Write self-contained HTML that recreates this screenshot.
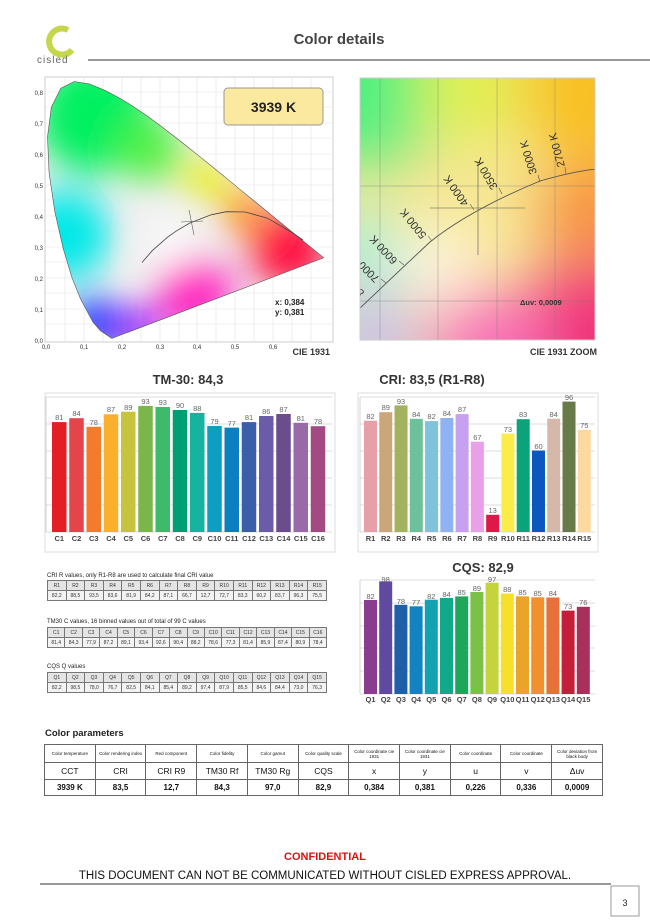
<!DOCTYPE html>
<html><head><meta charset="utf-8"><style>
body{margin:0;background:#fff;font-family:"Liberation Sans",sans-serif;}
#p{position:relative;width:650px;height:920px;overflow:hidden;background:#fff;}
svg{position:absolute;left:0;top:0;}
table{position:absolute;border-collapse:collapse;table-layout:fixed;font-family:"Liberation Sans",sans-serif;}
.t td{border:1px solid #777;font-size:5px;text-align:center;height:9px;padding:0;color:#333;}
.t tr:first-child td{background:#e4e4e4;}
.t tr:last-child td{background:#f3f3f3;}
.cap{position:absolute;font-size:6px;color:#222;left:47px;}
.cp td{border:1px solid #666;text-align:center;padding:0;color:#111;}
</style></head><body><div id="p">
<svg width="650" height="920" viewBox="0 0 650 920" font-family="Liberation Sans, sans-serif">
<defs>
<clipPath id="cie"><polygon points="111.8,338.4 100.4,330.8 92.9,322.1 80.5,298.9 72,277.8 63.2,248.5 54.9,212.1 49.1,173.1 47.5,137 51.3,107.4 60.7,88.3 74.1,81.5 89.2,83.9 104.5,90.2 118.9,97.7 132.8,106.2 146.5,115.5 160,125.4 173.5,135.7 187,146.4 200.5,157.2 213.9,168 227,178.7 239.7,189.2 251.9,199.1 263.4,208.5 273.9,217.1 283,224.5 291,231.1 297.7,236.5 323.7,257.8"/></clipPath>
<clipPath id="zc"><rect x="360" y="78" width="235" height="262"/></clipPath>
<filter id="b1" x="-50%" y="-50%" width="200%" height="200%"><feGaussianBlur stdDeviation="18"/></filter>
<filter id="b2" x="-50%" y="-50%" width="200%" height="200%"><feGaussianBlur stdDeviation="30"/></filter>
</defs>
<!-- header -->
<path d="M68,30 A13,13 0 1 0 72,50" fill="none" stroke="#c5d64a" stroke-width="6"/>
<text x="37" y="63" font-size="10" fill="#666" letter-spacing="1">cisled</text>
<text x="339" y="44" font-size="15" font-weight="bold" fill="#444" text-anchor="middle">Color details</text>
<line x1="88" y1="60" x2="650" y2="60" stroke="#777" stroke-width="1.5"/>
<!-- CIE 1931 -->
<rect x="45" y="77" width="288" height="265" fill="#fff" stroke="#ccc"/>
<g stroke="#e2e2e2" stroke-width="0.6">
<line x1="65" y1="77" x2="65" y2="342"/><line x1="84" y1="77" x2="84" y2="342"/><line x1="103" y1="77" x2="103" y2="342"/><line x1="122" y1="77" x2="122" y2="342"/><line x1="141" y1="77" x2="141" y2="342"/><line x1="160" y1="77" x2="160" y2="342"/><line x1="179" y1="77" x2="179" y2="342"/><line x1="197" y1="77" x2="197" y2="342"/><line x1="216" y1="77" x2="216" y2="342"/><line x1="235" y1="77" x2="235" y2="342"/><line x1="254" y1="77" x2="254" y2="342"/><line x1="273" y1="77" x2="273" y2="342"/><line x1="292" y1="77" x2="292" y2="342"/><line x1="311" y1="77" x2="311" y2="342"/>
<line x1="45" y1="324" x2="333" y2="324"/><line x1="45" y1="309" x2="333" y2="309"/><line x1="45" y1="293" x2="333" y2="293"/><line x1="45" y1="278" x2="333" y2="278"/><line x1="45" y1="262" x2="333" y2="262"/><line x1="45" y1="247" x2="333" y2="247"/><line x1="45" y1="231" x2="333" y2="231"/><line x1="45" y1="216" x2="333" y2="216"/><line x1="45" y1="200" x2="333" y2="200"/><line x1="45" y1="185" x2="333" y2="185"/><line x1="45" y1="169" x2="333" y2="169"/><line x1="45" y1="154" x2="333" y2="154"/><line x1="45" y1="138" x2="333" y2="138"/><line x1="45" y1="123" x2="333" y2="123"/><line x1="45" y1="107" x2="333" y2="107"/><line x1="45" y1="92" x2="333" y2="92"/>
</g>
<g clip-path="url(#cie)">
<rect x="40" y="70" width="300" height="280" fill="#f0f0f0"/>
<g filter="url(#b1)">
<circle cx="95" cy="115" r="60" fill="#00f060"/>
<circle cx="150" cy="150" r="32" fill="#50f040"/>
<circle cx="65" cy="235" r="45" fill="#00e8e8"/>
<circle cx="95" cy="325" r="28" fill="#1030ff"/>
<circle cx="140" cy="330" r="22" fill="#9010ff"/>
<circle cx="195" cy="295" r="38" fill="#ff20c0"/>
<circle cx="290" cy="250" r="40" fill="#ff1040"/>
<circle cx="245" cy="212" r="22" fill="#ff8800"/>
<circle cx="205" cy="180" r="22" fill="#e8f000"/>
<circle cx="172" cy="245" r="22" fill="#ffffff"/>
</g>
</g>
<polygon points="111.8,338.4 100.4,330.8 92.9,322.1 80.5,298.9 72,277.8 63.2,248.5 54.9,212.1 49.1,173.1 47.5,137 51.3,107.4 60.7,88.3 74.1,81.5 89.2,83.9 104.5,90.2 118.9,97.7 132.8,106.2 146.5,115.5 160,125.4 173.5,135.7 187,146.4 200.5,157.2 213.9,168 227,178.7 239.7,189.2 251.9,199.1 263.4,208.5 273.9,217.1 283,224.5 291,231.1 297.7,236.5 323.7,257.8" fill="none" stroke="#555" stroke-width="0.6"/>
<polyline points="142,262.5 152.2,250.7 167.7,237.1 176.4,230.9 189.6,223.1 211.2,214.8 226.3,211.7 245.2,212 267.5,218.2 292.8,233 303,240" fill="none" stroke="#444" stroke-width="0.8"/>
<g stroke="#555" stroke-width="0.6"><line x1="181" y1="222" x2="203" y2="221"/><line x1="189" y1="210" x2="194" y2="235"/></g>
<g font-size="6" fill="#333">
<text x="43" y="343" text-anchor="end">0,0</text><text x="43" y="312" text-anchor="end">0,1</text><text x="43" y="281" text-anchor="end">0,2</text><text x="43" y="250" text-anchor="end">0,3</text><text x="43" y="219" text-anchor="end">0,4</text><text x="43" y="188" text-anchor="end">0,5</text><text x="43" y="157" text-anchor="end">0,6</text><text x="43" y="126" text-anchor="end">0,7</text><text x="43" y="95" text-anchor="end">0,8</text>
<text x="46" y="349" text-anchor="middle">0,0</text><text x="84" y="349" text-anchor="middle">0,1</text><text x="122" y="349" text-anchor="middle">0,2</text><text x="160" y="349" text-anchor="middle">0,3</text><text x="197" y="349" text-anchor="middle">0,4</text><text x="235" y="349" text-anchor="middle">0,5</text><text x="273" y="349" text-anchor="middle">0,6</text>
</g>
<rect x="224" y="88" width="99" height="37" rx="4" fill="#fce9a0" stroke="#999"/>
<text x="273.5" y="112" font-size="14" font-weight="bold" fill="#222" text-anchor="middle">3939 K</text>
<text x="275" y="305" font-size="8" font-weight="bold" fill="#222">x: 0,384</text>
<text x="275" y="315" font-size="8" font-weight="bold" fill="#222">y: 0,381</text>
<text x="330" y="355" font-size="9" font-weight="bold" fill="#333" text-anchor="end">CIE 1931</text>
<!-- zoom -->
<g clip-path="url(#zc)">
<rect x="360" y="78" width="235" height="262" fill="#f6e690"/>
<g filter="url(#b2)">
<circle cx="365" cy="85" r="80" fill="#50f080"/>
<circle cx="470" cy="85" r="55" fill="#e0f050"/>
<circle cx="595" cy="90" r="75" fill="#f8c020"/>
<circle cx="595" cy="215" r="55" fill="#f89040"/>
<circle cx="595" cy="340" r="80" fill="#f03078"/>
<circle cx="490" cy="345" r="60" fill="#f870b8"/>
<circle cx="370" cy="340" r="50" fill="#c8c0f0"/>
<circle cx="362" cy="250" r="40" fill="#a0f0e0"/>
<circle cx="440" cy="265" r="40" fill="#fff8e8"/>
</g>
<g stroke="#777" stroke-width="0.5" opacity="0.7">
<line x1="380" y1="78" x2="380" y2="340"/><line x1="438" y1="78" x2="438" y2="340"/><line x1="497" y1="78" x2="497" y2="340"/><line x1="555" y1="78" x2="555" y2="340"/>
<line x1="360" y1="186" x2="595" y2="186"/><line x1="360" y1="301" x2="595" y2="301"/>
</g>
<path d="M358,310 Q400,270 430,242 Q470,210 540,181 Q575,171 597,169" fill="none" stroke="#555" stroke-width="0.9"/>
<g stroke="#555" stroke-width="0.6">
<line x1="478" y1="162" x2="478" y2="255"/><line x1="430" y1="208" x2="525" y2="208"/>
<line x1="566" y1="174" x2="565" y2="167"/><line x1="540" y1="182" x2="538" y2="175"/><line x1="502" y1="194" x2="499" y2="188"/><line x1="474" y1="210" x2="470" y2="204"/><line x1="432" y1="241" x2="428" y2="236"/><line x1="404" y1="265" x2="399" y2="261"/><line x1="386" y1="283" x2="381" y2="279"/>
</g>
<g font-size="11" fill="#333">
<text transform="translate(565,166) rotate(-105)">2700 K</text>
<text transform="translate(537,173) rotate(-107)">3000 K</text>
<text transform="translate(498,187) rotate(-120)">3500 K</text>
<text transform="translate(469,203) rotate(-125)">4000 K</text>
<text transform="translate(427,235) rotate(-129)">5000 K</text>
<text transform="translate(398,260) rotate(-133)">6000 K</text>
<text transform="translate(380,278) rotate(-135)">7000 K</text>
<text transform="translate(365,292) rotate(-137)">8000 K</text>
</g>
<text x="520" y="305" font-size="7.5" font-weight="bold" fill="#333">Δuv: 0,0009</text>
</g>
<rect x="360" y="78" width="235" height="262" fill="none" stroke="#ccc"/>
<text x="597" y="355" font-size="9" font-weight="bold" fill="#333" text-anchor="end">CIE 1931 ZOOM</text>
<!-- TM30 -->
<text x="188" y="384" font-size="13" font-weight="bold" fill="#333" text-anchor="middle">TM-30: 84,3</text>
<rect x="45" y="393" width="290" height="159" fill="none" stroke="#ddd"/>
<g stroke="#bbb" stroke-width="0.6"><line x1="46" y1="397" x2="332" y2="397"/><line x1="46" y1="424" x2="332" y2="424"/><line x1="46" y1="451" x2="332" y2="451"/><line x1="46" y1="478" x2="332" y2="478"/><line x1="46" y1="505" x2="332" y2="505"/><line x1="46" y1="532" x2="332" y2="532"/><line x1="46" y1="397" x2="46" y2="532"/></g>
<g>
<rect x="52" y="422.1" width="14.5" height="109.9" fill="#e31e24"/>
<rect x="69.25" y="418.2" width="14.5" height="113.8" fill="#e5444a"/>
<rect x="86.5" y="426.8" width="14.5" height="105.2" fill="#f47b29"/>
<rect x="103.75" y="414.3" width="14.5" height="117.7" fill="#fbb02d"/>
<rect x="121" y="411.7" width="14.5" height="120.3" fill="#c8c33e"/>
<rect x="138.25" y="405.9" width="14.5" height="126.1" fill="#7ab648"/>
<rect x="155.5" y="407" width="14.5" height="125" fill="#3dba6a"/>
<rect x="172.75" y="410" width="14.5" height="122" fill="#009e73"/>
<rect x="190" y="412.9" width="14.5" height="119.1" fill="#17b3a0"/>
<rect x="207.25" y="425.9" width="14.5" height="106.1" fill="#0d9ec2"/>
<rect x="224.5" y="427.6" width="14.5" height="104.4" fill="#0b7fc0"/>
<rect x="241.75" y="422.1" width="14.5" height="109.9" fill="#3a5fa8"/>
<rect x="259" y="416" width="14.5" height="116" fill="#6a5ca8"/>
<rect x="276.25" y="414" width="14.5" height="118" fill="#6b4c8c"/>
<rect x="293.5" y="422.8" width="14.5" height="109.2" fill="#9a6aa8"/>
<rect x="310.75" y="426.2" width="14.5" height="105.8" fill="#a34a82"/>
</g>
<g font-size="7.5" fill="#666" text-anchor="middle">
<text x="59.25" y="420">81</text><text x="76.5" y="416">84</text><text x="93.75" y="425">78</text><text x="111" y="412">87</text><text x="128.25" y="410">89</text><text x="145.5" y="404">93</text><text x="162.75" y="405">93</text><text x="180" y="408">90</text><text x="197.25" y="411">88</text><text x="214.5" y="424">79</text><text x="231.75" y="426">77</text><text x="249" y="420">81</text><text x="266.25" y="414">86</text><text x="283.5" y="412">87</text><text x="300.75" y="421">81</text><text x="318" y="424">78</text>
</g>
<g font-size="7.5" font-weight="bold" fill="#444" text-anchor="middle">
<text x="59.25" y="541">C1</text><text x="76.5" y="541">C2</text><text x="93.75" y="541">C3</text><text x="111" y="541">C4</text><text x="128.25" y="541">C5</text><text x="145.5" y="541">C6</text><text x="162.75" y="541">C7</text><text x="180" y="541">C8</text><text x="197.25" y="541">C9</text><text x="214.5" y="541">C10</text><text x="231.75" y="541">C11</text><text x="249" y="541">C12</text><text x="266.25" y="541">C13</text><text x="283.5" y="541">C14</text><text x="300.75" y="541">C15</text><text x="318" y="541">C16</text>
</g>
<!-- CRI -->
<text x="432" y="384" font-size="13" font-weight="bold" fill="#333" text-anchor="middle">CRI: 83,5 (R1-R8)</text>
<rect x="358" y="393" width="240" height="159" fill="none" stroke="#ddd"/>
<g stroke="#bbb" stroke-width="0.6"><line x1="360" y1="397" x2="595" y2="397"/><line x1="360" y1="424" x2="595" y2="424"/><line x1="360" y1="451" x2="595" y2="451"/><line x1="360" y1="478" x2="595" y2="478"/><line x1="360" y1="505" x2="595" y2="505"/><line x1="360" y1="532" x2="595" y2="532"/><line x1="360" y1="397" x2="360" y2="532"/></g>
<g>
<rect x="364" y="420.7" width="13" height="111.3" fill="#e8a0a8"/>
<rect x="379.27" y="412.2" width="13" height="119.8" fill="#c9a77a"/>
<rect x="394.54" y="405.4" width="13" height="126.6" fill="#a3b25e"/>
<rect x="409.81" y="418.8" width="13" height="113.2" fill="#6cc09a"/>
<rect x="425.08" y="421.1" width="13" height="110.9" fill="#7fc2dc"/>
<rect x="440.35" y="418" width="13" height="114" fill="#8fb3f2"/>
<rect x="455.62" y="414.1" width="13" height="117.9" fill="#c7a0f0"/>
<rect x="470.89" y="441.7" width="13" height="90.3" fill="#eaa0e8"/>
<rect x="486.16" y="514.8" width="13" height="17.2" fill="#e0184a"/>
<rect x="501.43" y="433.6" width="13" height="98.4" fill="#fcec4a"/>
<rect x="516.7" y="419.2" width="13" height="112.8" fill="#0aa37a"/>
<rect x="531.97" y="450.5" width="13" height="81.5" fill="#0c56c0"/>
<rect x="547.24" y="418.7" width="13" height="113.3" fill="#d5b8aa"/>
<rect x="562.51" y="401.6" width="13" height="130.4" fill="#677a48"/>
<rect x="577.78" y="429.8" width="13" height="102.2" fill="#fbd9a0"/>
</g>
<g font-size="7.5" fill="#666" text-anchor="middle">
<text x="370.5" y="419">82</text><text x="385.8" y="410">89</text><text x="401" y="404">93</text><text x="416.3" y="417">84</text><text x="431.6" y="419">82</text><text x="446.9" y="416">84</text><text x="462.1" y="412">87</text><text x="477.4" y="440">67</text><text x="492.7" y="513">13</text><text x="507.9" y="432">73</text><text x="523.2" y="417">83</text><text x="538.5" y="449">60</text><text x="553.7" y="417">84</text><text x="569" y="400">96</text><text x="584.3" y="428">75</text>
</g>
<g font-size="7.5" font-weight="bold" fill="#444" text-anchor="middle">
<text x="370.5" y="541">R1</text><text x="385.8" y="541">R2</text><text x="401" y="541">R3</text><text x="416.3" y="541">R4</text><text x="431.6" y="541">R5</text><text x="446.9" y="541">R6</text><text x="462.1" y="541">R7</text><text x="477.4" y="541">R8</text><text x="492.7" y="541">R9</text><text x="507.9" y="541">R10</text><text x="523.2" y="541">R11</text><text x="538.5" y="541">R12</text><text x="553.7" y="541">R13</text><text x="569" y="541">R14</text><text x="584.3" y="541">R15</text>
</g>
<!-- CQS -->
<text x="483" y="572" font-size="13" font-weight="bold" fill="#333" text-anchor="middle">CQS: 82,9</text>
<g stroke="#bbb" stroke-width="0.6"><line x1="360" y1="580" x2="595" y2="580"/><line x1="360" y1="603" x2="595" y2="603"/><line x1="360" y1="626" x2="595" y2="626"/><line x1="360" y1="648" x2="595" y2="648"/><line x1="360" y1="671" x2="595" y2="671"/><line x1="360" y1="694" x2="595" y2="694"/><line x1="360" y1="580" x2="360" y2="694"/></g>
<g>
<rect x="364" y="600" width="13" height="94" fill="#8a3c8e"/>
<rect x="379.2" y="581.4" width="13" height="112.6" fill="#5f4aa0"/>
<rect x="394.4" y="604.8" width="13" height="89.2" fill="#1f5fa8"/>
<rect x="409.6" y="606.3" width="13" height="87.7" fill="#1283c0"/>
<rect x="424.8" y="599.7" width="13" height="94.3" fill="#13a3b0"/>
<rect x="440" y="597.9" width="13" height="96.1" fill="#12a88a"/>
<rect x="455.2" y="596.4" width="13" height="97.6" fill="#1ca85a"/>
<rect x="470.4" y="592" width="13" height="102" fill="#7cc048"/>
<rect x="485.6" y="582.7" width="13" height="111.3" fill="#c5d43c"/>
<rect x="500.8" y="593.5" width="13" height="100.5" fill="#f7e02a"/>
<rect x="516" y="596.3" width="13" height="97.7" fill="#eaa42a"/>
<rect x="531.2" y="597.3" width="13" height="96.7" fill="#f2902e"/>
<rect x="546.4" y="597.5" width="13" height="96.5" fill="#e8703a"/>
<rect x="561.6" y="610.6" width="13" height="83.4" fill="#c41e3a"/>
<rect x="576.8" y="606.8" width="13" height="87.2" fill="#a8305a"/>
</g>
<g font-size="7.5" fill="#666" text-anchor="middle">
<text x="370.5" y="599">82</text><text x="385.7" y="582">98</text><text x="400.9" y="604">78</text><text x="416.1" y="605">77</text><text x="431.3" y="599">82</text><text x="446.5" y="597">84</text><text x="461.7" y="595">85</text><text x="476.9" y="591">89</text><text x="492.1" y="582">97</text><text x="507.3" y="592">88</text><text x="522.5" y="595">85</text><text x="537.7" y="596">85</text><text x="552.9" y="596">84</text><text x="568.1" y="609">73</text><text x="583.3" y="605">76</text>
</g>
<g font-size="7.5" font-weight="bold" fill="#444" text-anchor="middle">
<text x="370.5" y="702">Q1</text><text x="385.7" y="702">Q2</text><text x="400.9" y="702">Q3</text><text x="416.1" y="702">Q4</text><text x="431.3" y="702">Q5</text><text x="446.5" y="702">Q6</text><text x="461.7" y="702">Q7</text><text x="476.9" y="702">Q8</text><text x="492.1" y="702">Q9</text><text x="507.3" y="702">Q10</text><text x="522.5" y="702">Q11</text><text x="537.7" y="702">Q12</text><text x="552.9" y="702">Q13</text><text x="568.1" y="702">Q14</text><text x="583.3" y="702">Q15</text>
</g>
<!-- footer -->
<text x="45" y="736" font-size="9.5" font-weight="bold" fill="#222">Color parameters</text>
<text x="325" y="860" font-size="11" font-weight="bold" fill="#e01010" text-anchor="middle">CONFIDENTIAL</text>
<text x="325" y="879" font-size="11.5" fill="#111" text-anchor="middle">THIS DOCUMENT CAN NOT BE COMMUNICATED WITHOUT CISLED EXPRESS APPROVAL.</text>
<line x1="40" y1="884" x2="611" y2="884" stroke="#333" stroke-width="1"/>
<rect x="611" y="886" width="28" height="30" fill="#fff" stroke="#999"/>
<text x="625" y="906" font-size="9" fill="#222" text-anchor="middle">3</text>
</svg>

<div class="cap" style="top:573px">CRI R values, only R1-R8 are used to calculate final CRI value</div>
<table class="t" style="left:47px;top:580px;width:280px"><tr><td>R1</td><td>R2</td><td>R3</td><td>R4</td><td>R5</td><td>R6</td><td>R7</td><td>R8</td><td>R9</td><td>R10</td><td>R11</td><td>R12</td><td>R13</td><td>R14</td><td>R15</td></tr><tr><td>82,2</td><td>88,5</td><td>93,5</td><td>83,6</td><td>81,9</td><td>84,2</td><td>87,1</td><td>66,7</td><td>12,7</td><td>72,7</td><td>83,3</td><td>60,2</td><td>83,7</td><td>96,3</td><td>75,5</td></tr></table>
<div class="cap" style="top:619px">TM30 C values, 16 binned values out of total of 99 C values</div>
<table class="t" style="left:47px;top:627px;width:280px"><tr><td>C1</td><td>C2</td><td>C3</td><td>C4</td><td>C5</td><td>C6</td><td>C7</td><td>C8</td><td>C9</td><td>C10</td><td>C11</td><td>C12</td><td>C13</td><td>C14</td><td>C15</td><td>C16</td></tr><tr><td>81,4</td><td>84,3</td><td>77,9</td><td>87,2</td><td>89,1</td><td>93,4</td><td>92,6</td><td>90,4</td><td>88,2</td><td>78,6</td><td>77,3</td><td>81,4</td><td>85,9</td><td>87,4</td><td>80,9</td><td>78,4</td></tr></table>
<div class="cap" style="top:664px">CQS Q values</div>
<table class="t" style="left:47px;top:672px;width:280px"><tr><td>Q1</td><td>Q2</td><td>Q3</td><td>Q4</td><td>Q5</td><td>Q6</td><td>Q7</td><td>Q8</td><td>Q9</td><td>Q10</td><td>Q11</td><td>Q12</td><td>Q13</td><td>Q14</td><td>Q15</td></tr><tr><td>82,2</td><td>98,5</td><td>78,0</td><td>76,7</td><td>82,5</td><td>84,1</td><td>85,4</td><td>89,2</td><td>97,4</td><td>87,9</td><td>85,5</td><td>84,6</td><td>84,4</td><td>73,0</td><td>76,3</td></tr></table>

<table class="cp" style="left:44px;top:744px;width:559px">
<tr style="height:18px;font-size:4.5px"><td>Color temperature</td><td>Color rendering index</td><td>Red component</td><td>Color fidelity</td><td>Color gamut</td><td>Color quality scale</td><td>Color coordinate cie 1931</td><td>Color coordinate cie 1931</td><td>Color coordinate</td><td>Color coordinate</td><td>Color deviation from black body</td></tr>
<tr style="height:17px;font-size:8.5px"><td>CCT</td><td>CRI</td><td>CRI R9</td><td>TM30 Rf</td><td>TM30 Rg</td><td>CQS</td><td>x</td><td>y</td><td>u</td><td>v</td><td>Δuv</td></tr>
<tr style="height:16px;font-size:8px;font-weight:bold"><td>3939 K</td><td>83,5</td><td>12,7</td><td>84,3</td><td>97,0</td><td>82,9</td><td>0,384</td><td>0,381</td><td>0,226</td><td>0,336</td><td>0,0009</td></tr>
</table>
</div></body></html>
